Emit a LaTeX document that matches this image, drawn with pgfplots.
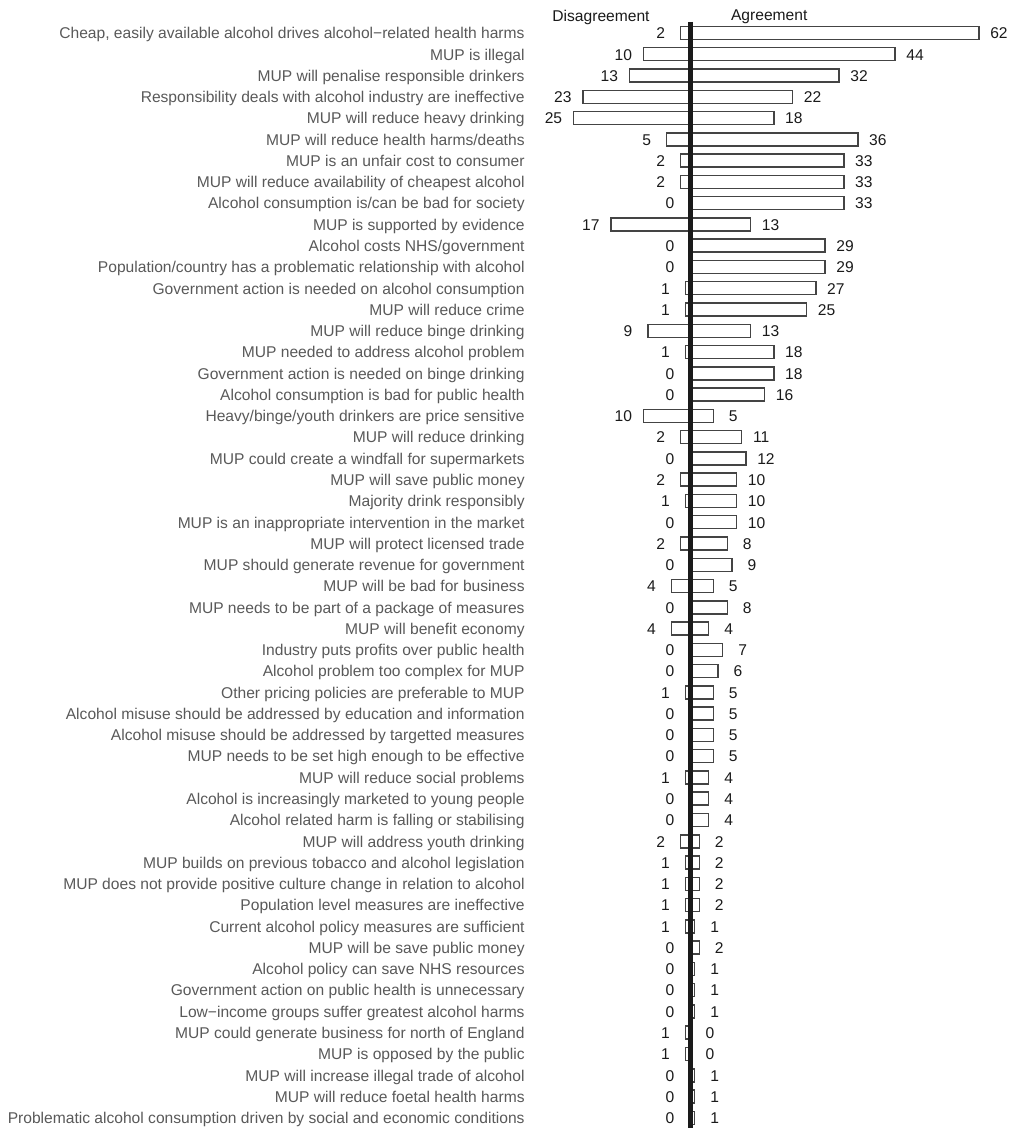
\documentclass[border=0pt]{standalone}
\usepackage{fontspec}
\setmainfont{Liberation Sans}
\usepackage{pgfplots}
\usepackage{pgfplotstable}
\pgfplotsset{compat=1.18}
\definecolor{labelgray}{HTML}{595959}
\definecolor{bardraw}{HTML}{444444}
\definecolor{numcol}{HTML}{1A1A1A}
\pgfplotstableread{
row dneg d a
1 -2 2 62
2 -10 10 44
3 -13 13 32
4 -23 23 22
5 -25 25 18
6 -5 5 36
7 -2 2 33
8 -2 2 33
9 0 0 33
10 -17 17 13
11 0 0 29
12 0 0 29
13 -1 1 27
14 -1 1 25
15 -9 9 13
16 -1 1 18
17 0 0 18
18 0 0 16
19 -10 10 5
20 -2 2 11
21 0 0 12
22 -2 2 10
23 -1 1 10
24 0 0 10
25 -2 2 8
26 0 0 9
27 -4 4 5
28 0 0 8
29 -4 4 4
30 0 0 7
31 0 0 6
32 -1 1 5
33 0 0 5
34 0 0 5
35 0 0 5
36 -1 1 4
37 0 0 4
38 0 0 4
39 -2 2 2
40 -1 1 2
41 -1 1 2
42 -1 1 2
43 -1 1 1
44 0 0 2
45 0 0 1
46 0 0 1
47 0 0 1
48 -1 1 0
49 -1 1 0
50 0 0 1
51 0 0 1
52 0 0 1
}\datatable
\begin{document}
\begin{tikzpicture}
\useasboundingbox (0,0) rectangle (505.5pt,564pt);
\begin{axis}[
  at={(266.5pt,0pt)}, anchor=south west,
  scale only axis, width=239pt, height=564pt,
  xmin=-33.69, xmax=68.88, ymin=-0.551, ymax=52.48, y dir=reverse,
  clip=false,
  axis line style={draw=none},
  xtick=\empty,
  ytick={1,...,52},
  major tick length=0pt,
  /pgf/number format/assume math mode=true,
  yticklabel style={font=\fontsize{7.8}{9}\selectfont, text=labelgray, inner sep=0pt, xshift=-4pt, yshift=-0.9pt, text height=5.6pt, text depth=1.6pt},
  yticklabels={{Cheap, easily available alcohol drives alcohol−related health harms},
{MUP is illegal},
{MUP will penalise responsible drinkers},
{Responsibility deals with alcohol industry are ineffective},
{MUP will reduce heavy drinking},
{MUP will reduce health harms/deaths},
{MUP is an unfair cost to consumer},
{MUP will reduce availability of cheapest alcohol},
{Alcohol consumption is/can be bad for society},
{MUP is supported by evidence},
{Alcohol costs NHS/government},
{Population/country has a problematic relationship with alcohol},
{Government action is needed on alcohol consumption\ },
{MUP will reduce crime},
{MUP will reduce binge drinking},
{MUP needed to address alcohol problem},
{Government action is needed on binge drinking},
{Alcohol consumption is bad for public health},
{Heavy/binge/youth drinkers are price sensitive},
{MUP will reduce drinking},
{MUP could create a windfall for supermarkets},
{MUP will save public money},
{Majority drink responsibly},
{MUP is an inappropriate intervention in the market},
{MUP will protect licensed trade},
{MUP should generate revenue for government},
{MUP will be bad for business},
{MUP needs to be part of a package of measures},
{MUP will benefit economy},
{Industry puts profits over public health},
{Alcohol problem too complex for MUP},
{Other pricing policies are preferable to MUP},
{Alcohol misuse should be addressed by education and information},
{Alcohol misuse should be addressed by targetted measures},
{MUP needs to be set high enough to be effective},
{MUP will reduce social problems},
{Alcohol is increasingly marketed to young people},
{Alcohol related harm is falling or stabilising},
{MUP will address youth drinking},
{MUP builds on previous tobacco and alcohol legislation},
{MUP does not provide positive culture change in relation to alcohol},
{Population level measures are ineffective},
{Current alcohol policy measures are sufficient},
{MUP will be save public money},
{Alcohol policy can save NHS resources},
{Government action on public health is unnecessary},
{Low−income groups suffer greatest alcohol harms},
{MUP could generate business for north of England},
{MUP is opposed by the public},
{MUP will increase illegal trade of alcohol},
{MUP will reduce foetal health harms},
{Problematic alcohol consumption driven by social and economic conditions}},
]
\addplot[xbar, bar width=6.5pt, bar shift=0pt,
  draw=bardraw, fill=white, line width=0.75pt,
  nodes near coords, point meta=explicit, nodes near coords align={center},
  every node near coord/.append style={xshift=-10pt, yshift=-0.9pt, font=\fontsize{7.8}{9}\selectfont, text=numcol, text height=5.6pt, text depth=1.6pt}]
  table[x=dneg, y=row, meta=d] {\datatable};
\addplot[xbar, bar width=6.5pt, bar shift=0pt,
  draw=bardraw, fill=white, line width=0.75pt,
  nodes near coords, point meta=explicit, nodes near coords align={center},
  every node near coord/.append style={xshift=10pt, yshift=-0.9pt, font=\fontsize{7.8}{9}\selectfont, text=numcol, text height=5.6pt, text depth=1.6pt}]
  table[x=a, y=row, meta=a] {\datatable};
\addplot[no marks, draw=numcol, line width=2.5pt] coordinates {(0,0.483) (0,52.48)};
\node[font=\fontsize{7.8}{9}\selectfont, text=numcol] at (axis cs:-19.1,0.248) {Disagreement};
\node[font=\fontsize{7.8}{9}\selectfont, text=numcol] at (axis cs:17.0,0.248) {Agreement};
\end{axis}
\end{tikzpicture}
\end{document}
